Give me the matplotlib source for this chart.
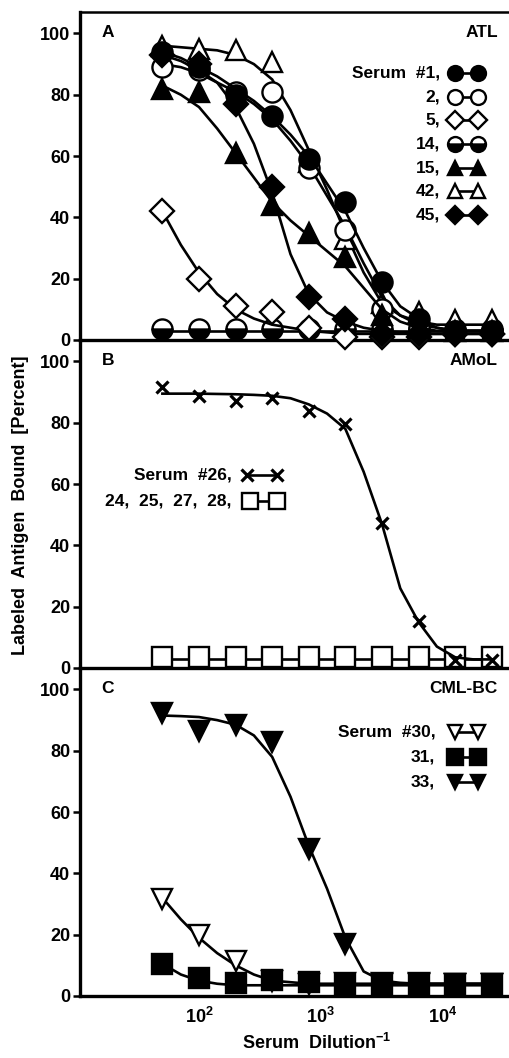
import numpy as np
import matplotlib
matplotlib.use('Agg')
import matplotlib.pyplot as plt
from matplotlib import rcParams
from matplotlib.ticker import NullLocator

rcParams['font.family'] = ['Liberation Sans', 'DejaVu Sans']
rcParams['font.weight'] = 'bold'
rcParams['mathtext.fontset'] = 'custom'
rcParams['mathtext.rm'] = 'Liberation Sans:bold'
rcParams['mathtext.bf'] = 'Liberation Sans:bold'

# serum dilutions (reciprocal) of the measured points
dilution = [50, 100, 200, 400, 800, 1600, 3200, 6400, 12800, 25600]
# dilutions at which the drawn (fitted) curves were read
fit_dil = [50, 71, 100, 141, 200, 283, 400, 566, 800, 1131, 1600, 2263,
           3200, 4525, 6400, 9051, 12800, 18102, 25600]

# panel A - ATL
a1_pts = [94, 89, 80, 73, 59, 45, 19, 7, 3, 3]
a1_fit = [94, 92, 89, 86, 82, 78, 73, 67, 60, 51, 42, 30, 19, 11, 7, 4, 3, 3, 3]
a2_pts = [89, 88, 81, 81, 56, 36, 10, 4, 3, 3]
a2_fit = [90, 89, 87, 84, 81, 77, 72, 65, 57, 47, 37, 25, 14, 8, 5, 4, 3, 3, 3]
a5_pts = [42, 20, 11, 9, 4, 1, 1, 1, 2, 2]
a5_fit = [42, 31, 22, 15, 10, 7, 5, 4, 3, 2.5, 2, 2, 2, 2, 2, 2, 2, 2, 2]
a14_pts = [3.5, 3.5, 3.5, 3.5, 3.5, 3.5, 3.5, 3.5, 3.5, 3.5]
a14_fit = [3, 3, 3, 3, 3, 3, 3, 3, 3, 3, 3, 3, 3, 3, 3, 3, 3, 3, 3]
a15_pts = [82, 81, 61, 44, 35, 27, 8, 4, 3, 3]
a15_fit = [83, 80, 76, 69, 61, 53, 45, 39, 34, 29, 24, 17, 10, 6, 4, 3, 3, 3, 3]
a42_pts = [96, 95, 94.5, 90.6, 58, 33, 12, 9, 6.5, 6.5]
a42_fit = [96, 95.5, 95, 94.5, 93, 90, 85, 75, 62, 49, 35, 22, 12, 8, 6, 5, 5, 5, 5]
a45_pts = [93, 90, 77, 50, 14, 7, 2, 2, 2, 2]
a45_fit = [93, 91, 88, 84, 76, 64, 48, 28, 15, 9, 6, 4, 3, 2.5, 2, 2, 2, 2, 2]

# panel B - AMoL
b26_pts = [91.6, 88.6, 87, 88.2, 84, 79.7, 47.3, 15.4, 2.6, 2.6]
b26_fit = [89.5, 89.5, 89.5, 89.4, 89.3, 89.1, 88.8, 88, 86, 83, 78, 64,
           47, 26, 15, 7, 3.5, 2.8, 2.8]
bsq_pts = [3.7, 3.7, 3.7, 3.7, 3.7, 3.7, 3.7, 3.7, 3.7, 3.7]
bsq_fit = [3, 3, 3, 3, 3, 3, 3, 3, 3, 3, 3, 3, 3, 3, 3, 3, 3, 3, 3]

# panel C - CML-BC
c30_pts = [31.5, 20, 11.3, 5, 4, 4.2, 4, 4, 4, 4]
c30_fit = [32, 25, 19, 14, 10, 7, 5, 4.5, 4, 4, 4, 4, 4, 4, 4, 4, 4, 4, 4]
c31_pts = [10.5, 5.8, 4.2, 5.3, 4.7, 4, 4, 4, 4, 4]
c31_fit = [10.5, 7, 5, 4, 3.5, 3.5, 3.5, 3.5, 3.5, 3.5, 3.5, 3.5, 3.5, 3.5,
           3.5, 3.5, 3.5, 3.5, 3.5]
c33_pts = [92.3, 86.3, 88.5, 82.7, 48, 17, 4.4, 4.4, 4, 4]
c33_fit = [91.5, 91.3, 91, 90, 88.5, 85, 78, 65, 49, 35, 19, 8, 5, 4.3, 4, 4, 4, 4, 4]

LW = 1.9
MEW = 1.7

# marker styles: (marker, size, fill, fillstyle)
styles = {
    '1': ('o', 14.5, 'black', 'full'),
    '2': ('o', 14.5, 'white', 'full'),
    '5': ('D', 12.5, 'white', 'full'),
    '14': ('o', 14.5, 'black', 'bottom'),
    '15': ('^', 14.5, 'black', 'full'),
    '42': ('^', 14.5, 'white', 'full'),
    '45': ('D', 12.5, 'black', 'full'),
    '26': ('x', 8.5, 'black', 'full'),
    'sq': ('s', 15, 'white', 'full'),
    '30': ('v', 14.5, 'white', 'full'),
    '31': ('s', 15, 'black', 'full'),
    '33': ('v', 14.5, 'black', 'full'),
}


def draw(ax, pts, fit, key, z):
    m, ms, fc, fs = styles[key]
    ax.plot(fit_dil, fit, color='black', lw=LW, zorder=z, clip_on=False)
    ax.plot(dilution, pts, ls='none', marker=m, ms=ms, mfc=fc, mec='black',
            mew=2.3 if m == 'x' else MEW, fillstyle=fs, markerfacecoloralt='white',
            zorder=z + 0.5, clip_on=False)


def legend_sym(ax, x0, x1, y, key, scale=0.74):
    m, ms, fc, fs = styles[key]
    ax.plot([x0, x1], [y, y], transform=ax.transAxes, color='black', lw=LW,
            marker=m, ms=ms * (scale if m != 'x' else 1.0), mfc=fc, mec='black',
            mew=2.3 if m == 'x' else MEW, fillstyle=fs, markerfacecoloralt='white',
            clip_on=False, zorder=10)


fig = plt.figure(figsize=(5.09, 10.58), dpi=100)
left = 80 / 509
width = 1 - left
tops = [12, 340, 668]
axes = []
for t in tops:
    b = 1 - (t + 328) / 1058
    ax = fig.add_axes([left, b, width, 328 / 1058])
    ax.set_xscale('log')
    ax.set_xlim(10.5, 35500)
    ax.set_ylim(0, 107)
    ax.set_yticks([0, 20, 40, 60, 80, 100])
    ax.xaxis.set_minor_locator(NullLocator())
    ax.tick_params(axis='y', direction='out', length=5, width=1.8, pad=2, labelsize=13)
    ax.tick_params(axis='x', length=0, pad=8, labelsize=13)
    ax.spines['right'].set_visible(False)
    ax.spines['top'].set_visible(t == 12)
    ax.spines['left'].set_linewidth(2.4)
    ax.spines['bottom'].set_linewidth(2.4)
    ax.spines['top'].set_linewidth(1.8)
    ax.patch.set_alpha(0)
    axes.append(ax)

ax_a, ax_b, ax_c = axes
for ax in (ax_a, ax_b):
    ax.set_xticks([])
ax_c.set_xticks([100, 1000, 10000])
ax_c.set_xticklabels(['$\\mathbf{10^{2}}$', '$\\mathbf{10^{3}}$', '$\\mathbf{10^{4}}$'])

# panel A
draw(ax_a, a14_pts, a14_fit, '14', 2)
draw(ax_a, a42_pts, a42_fit, '42', 3)
draw(ax_a, a5_pts, a5_fit, '5', 4)
draw(ax_a, a2_pts, a2_fit, '2', 5)
draw(ax_a, a15_pts, a15_fit, '15', 6)
draw(ax_a, a45_pts, a45_fit, '45', 7)
draw(ax_a, a1_pts, a1_fit, '1', 8)

# panel B
draw(ax_b, bsq_pts, bsq_fit, 'sq', 2)
draw(ax_b, b26_pts, b26_fit, '26', 3)

# panel C
draw(ax_c, c30_pts, c30_fit, '30', 2)
draw(ax_c, c31_pts, c31_fit, '31', 3)
draw(ax_c, c33_pts, c33_fit, '33', 4)

fs = 12.5
for ax, lab, name in ((ax_a, 'A', 'ATL'), (ax_b, 'B', 'AMoL'), (ax_c, 'C', 'CML-BC')):
    ax.text(0.065, 0.936, lab, transform=ax.transAxes, fontsize=fs, fontweight='bold',
            va='center', ha='center')
    ax.text(0.974, 0.936, name, transform=ax.transAxes, fontsize=fs, fontweight='bold',
            va='center', ha='right')

# legend A
labels_a = ['Serum  #1,', '2,', '5,', '14,', '15,', '42,', '45,']
keys_a = ['1', '2', '5', '14', '15', '42', '45']
for i, (lab, k) in enumerate(zip(labels_a, keys_a)):
    y = 0.814 - i * 0.0722
    ax_a.text(0.839, y, lab, transform=ax_a.transAxes, fontsize=fs, fontweight='bold',
              ha='right', va='center')
    legend_sym(ax_a, 0.874, 0.928, y, k)

# legend B
ax_b.text(0.354, 0.588, 'Serum  #26,', transform=ax_b.transAxes, fontsize=fs,
          fontweight='bold', ha='right', va='center')
legend_sym(ax_b, 0.389, 0.459, 0.588, '26')
ax_b.text(0.354, 0.509, '24,  25,  27,  28,', transform=ax_b.transAxes, fontsize=fs,
          fontweight='bold', ha='right', va='center')
legend_sym(ax_b, 0.396, 0.459, 0.509, 'sq')

# legend C
labels_c = ['Serum  #30,', '31,', '33,']
keys_c = ['30', '31', '33']
for i, (lab, k) in enumerate(zip(labels_c, keys_c)):
    y = 0.805 - i * 0.0765
    ax_c.text(0.828, y, lab, transform=ax_c.transAxes, fontsize=fs, fontweight='bold',
              ha='right', va='center')
    legend_sym(ax_c, 0.874, 0.928, y, k)

fig.text(0.041, 1 - 505 / 1058, 'Labeled  Antigen  Bound  [Percent]', rotation=90,
         fontsize=13, fontweight='bold', ha='center', va='center')
fig.text(0.621, 1 - 1043 / 1058, 'Serum  Dilution$^{\\mathbf{-1}}$', fontsize=13,
         fontweight='bold', ha='center', va='center')

fig.savefig('out.png', dpi=100)
